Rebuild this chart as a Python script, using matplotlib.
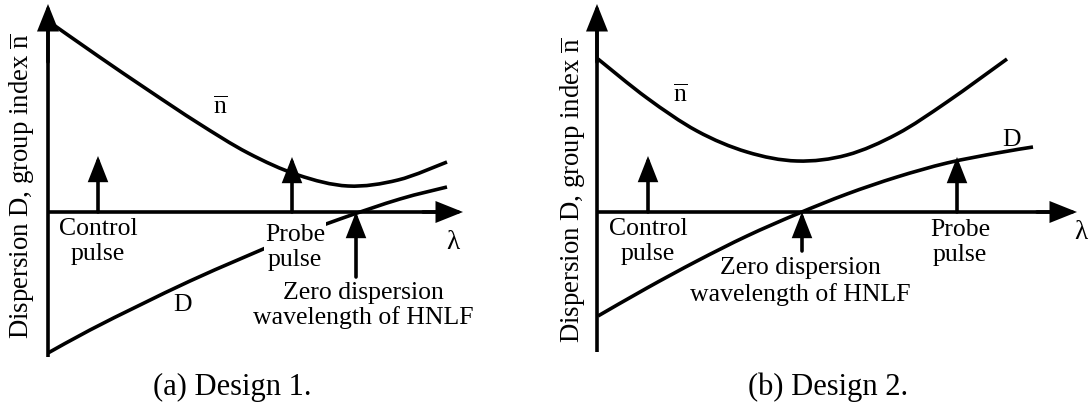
import matplotlib
matplotlib.use('Agg')
import matplotlib.pyplot as plt
from matplotlib.path import Path
from matplotlib.patches import PathPatch

plt.rcParams['font.family'] = ['Liberation Serif', 'DejaVu Serif']
plt.rcParams['mathtext.fontset'] = 'custom'
plt.rcParams['mathtext.rm'] = 'Liberation Serif'
plt.rcParams['mathtext.it'] = 'Liberation Serif:italic'

# schematic curves (x = wavelength, y = value; origin = axis crossing)
# design 1
wl_n1 = [0, 50, 100, 150, 200, 250, 300, 350, 399]
n1 = [191, 156, 122, 89, 59, 37, 26, 32, 50]
wl_d1 = [0, 42, 92, 142, 192, 242, 292, 352, 399]
d1 = [-141, -118, -93, -69, -47, -26, -7, 13, 25]
# design 2
wl_n2 = [1, 50, 100, 150, 200, 250, 300, 350, 410]
n2 = [153, 114, 81, 60, 51, 57, 78, 110, 153]
wl_d2 = [1, 50, 100, 150, 200, 250, 300, 350, 400, 436]
d2 = [-104, -76, -49, -24, -2, 18, 35, 49, 59, 65]

# pulse / marker wavelengths
ctrl = [50, 51]
probe = [244, 360]
zero = [308, 205]

FS = 18.5
LW = 2.6
LS = 1.2

fig = plt.figure(figsize=(10.92, 4.1), dpi=100)
ax_a = fig.add_axes([0, 0, 540 / 1092, 1])
ax_b = fig.add_axes([540 / 1092, 0, 552 / 1092, 1])
ax_a.set_xlim(-48, 492)
ax_b.set_xlim(-57, 495)
for ax in (ax_a, ax_b):
    ax.set_ylim(-197, 213)
    ax.axis('off')


def curve(ax, xs, ys):
    # smooth curve through the read points (Catmull-Rom as bezier segments)
    pts = list(zip(xs, ys))
    ext = [pts[0]] + pts + [pts[-1]]
    verts = [pts[0]]
    codes = [Path.MOVETO]
    for i in range(1, len(ext) - 2):
        p0, p1, p2, p3 = ext[i - 1], ext[i], ext[i + 1], ext[i + 2]
        c1 = (p1[0] + (p2[0] - p0[0]) / 6, p1[1] + (p2[1] - p0[1]) / 6)
        c2 = (p2[0] - (p3[0] - p1[0]) / 6, p2[1] - (p3[1] - p1[1]) / 6)
        verts += [c1, c2, p2]
        codes += [Path.CURVE4] * 3
    ax.add_patch(PathPatch(Path(verts, codes), fill=False, lw=LW, edgecolor='k',
                           capstyle='butt', zorder=2))


def arrow(ax, x0, y0, x1, y1, big=False):
    hl, hw = (1.5, 0.6) if big else (1.4, 0.55)
    ax.annotate('', xy=(x1, y1), xytext=(x0, y0),
                arrowprops=dict(arrowstyle='-|>,head_length=%s,head_width=%s' % (hl, hw),
                                lw=LW, color='k', shrinkA=0, shrinkB=0,
                                mutation_scale=10, joinstyle='miter'),
                zorder=5)


def panel(ax, wl_n, n, wl_d, d, xend, ybot):
    curve(ax, wl_n, n)
    curve(ax, wl_d, d)
    ax.plot([0, 0], [ybot, 190], color='k', lw=LW, solid_capstyle='butt', zorder=4)
    arrow(ax, 0, 150, 0, 208, big=True)
    ax.plot([0, xend - 10], [0, 0], color='k', lw=LW, solid_capstyle='butt', zorder=4)
    arrow(ax, xend - 40, 0, xend, 0, big=True)


# (a) design 1
panel(ax_a, wl_n1, n1, wl_d1, d1, 415, -145)
arrow(ax_a, ctrl[0], 0, ctrl[0], 56)
arrow(ax_a, probe[0], 0, probe[0], 55)
arrow(ax_a, zero[0], -65, zero[0], 0)
ax_a.text(ctrl[0], -28.5, 'Control\npulse', ha='center', va='center', fontsize=FS, linespacing=LS)
ax_a.text(probe[0] + 3, -34.5, 'Probe\npulse', ha='center', va='center', fontsize=FS, linespacing=LS,
          bbox=dict(facecolor='white', edgecolor='none', pad=0.5), zorder=3)
ax_a.text(zero[0] + 7, -92.5, 'Zero dispersion\nwavelength of HNLF', ha='center', va='center',
          fontsize=FS, linespacing=LS - 0.05)
ax_a.text(405, -30, 'λ', ha='center', va='center', fontsize=FS + 1)
ax_a.text(172, 106, r'$\overline{\mathrm{n}}$', ha='center', va='center', fontsize=FS)
ax_a.text(135, -92, 'D', ha='center', va='center', fontsize=FS)
ax_a.text(-26, 27, r'Dispersion D, group index $\overline{\mathrm{n}}$', rotation=90,
          ha='center', va='center', fontsize=FS + 0.8)
ax_a.text(184, -174, '(a) Design 1.', ha='center', va='center', fontsize=22)

# (b) design 2
panel(ax_b, wl_n2, n2, wl_d2, d2, 480, -140)
arrow(ax_b, ctrl[1], 0, ctrl[1], 56)
arrow(ax_b, probe[1], 0, probe[1], 55)
arrow(ax_b, zero[1], -39, zero[1], 0)
ax_b.text(ctrl[1], -28.5, 'Control\npulse', ha='center', va='center', fontsize=FS, linespacing=LS)
ax_b.text(probe[1] + 3, -29.5, 'Probe\npulse', ha='center', va='center', fontsize=FS, linespacing=LS)
ax_b.text(zero[1] - 2, -68.5, 'Zero dispersion\nwavelength of HNLF', ha='center', va='center',
          fontsize=FS, linespacing=LS)
ax_b.text(484, -20, 'λ', ha='center', va='center', fontsize=FS + 1, clip_on=False)
ax_b.text(83, 118, r'$\overline{\mathrm{n}}$', ha='center', va='center', fontsize=FS)
ax_b.text(415, 73, 'D', ha='center', va='center', fontsize=FS)
ax_b.text(-24, 23, r'Dispersion D, group index $\overline{\mathrm{n}}$', rotation=90,
          ha='center', va='center', fontsize=FS + 0.8)
ax_b.text(231, -174, '(b) Design 2.', ha='center', va='center', fontsize=22)

fig.savefig('out.png', dpi=100, facecolor='white')
